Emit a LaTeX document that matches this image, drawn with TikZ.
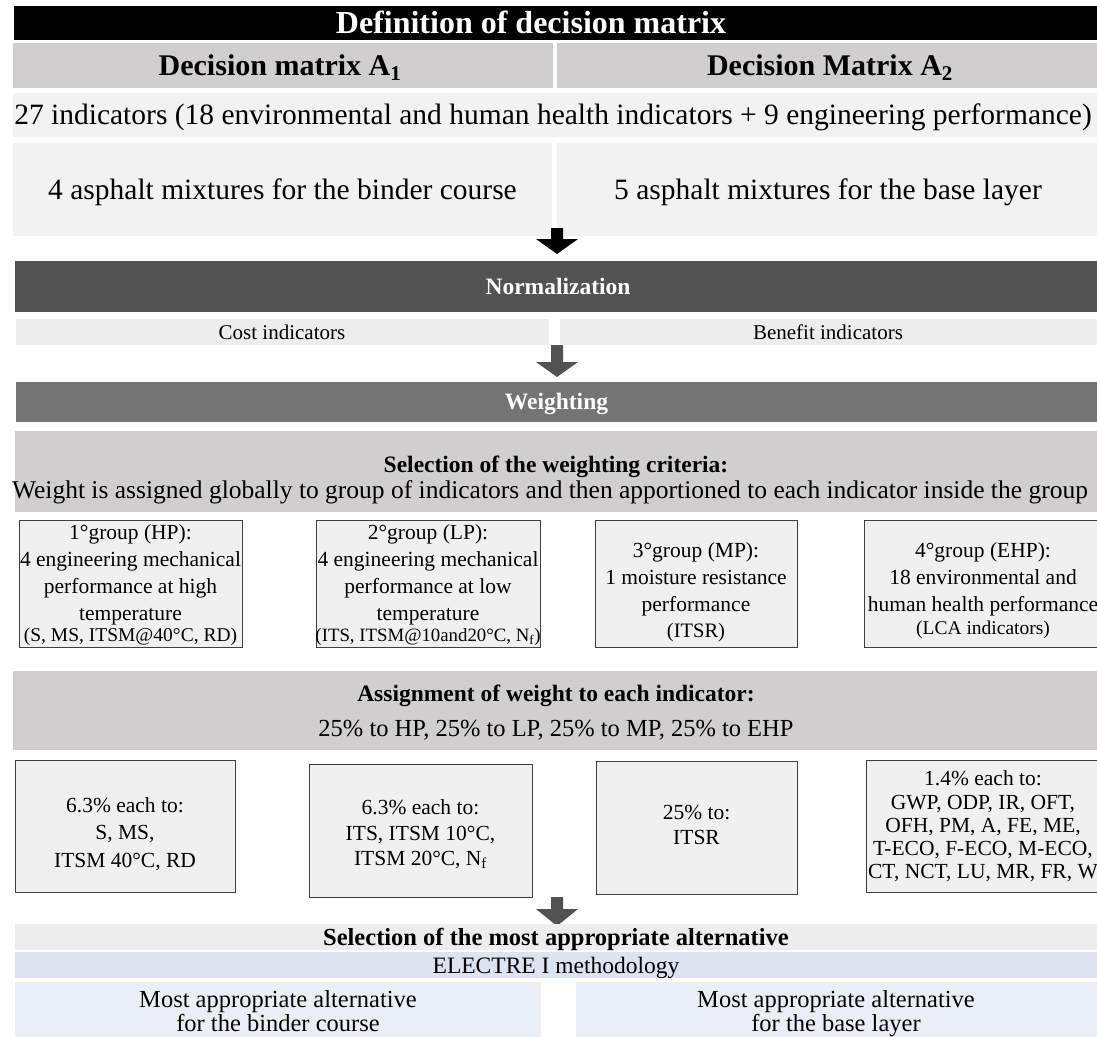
\documentclass[tikz,border=0pt]{standalone}
\usepackage{fontspec}
\setmainfont{Liberation Serif}

% palette
\definecolor{bandgray}{HTML}{D0CECE}
\definecolor{palegray}{HTML}{F2F2F2}
\definecolor{normgray}{HTML}{525252}
\definecolor{weightgray}{HTML}{747474}
\definecolor{rowgray}{HTML}{EDEDED}
\definecolor{boxfill}{HTML}{F0F0F0}
\definecolor{boxline}{HTML}{3F3F3F}
\definecolor{electreblue}{HTML}{DCE4F2}
\definecolor{resultblue}{HTML}{EAEFF7}

% filled panel: name, left, top, width, height, style
\newcommand\cell[6]{\node[cell,#6,minimum width=#4pt,minimum height=#5pt] (#1) at (#2,#3) {};}
% one line of text: name, x, baseline, size, style, text
\newcommand\tline[6]{\node[tl,#5] (#1) at (#2,#3) {\fontsize{#4}{#4}\selectfont #6};}
% block arrow: name, x, top, neck, tip, colour
\newcommand\blockarrow[6]{%
  \coordinate (#1-top) at (#2,#3);
  \coordinate (#1-tip) at (#2,#5);
  \fill[#6] (#2-6,#3) -- (#2+6,#3) -- (#2+6,#4) -- (#2+21,#4) -- (#1-tip)
            -- (#2-21,#4) -- (#2-6,#4) -- cycle;}

\begin{document}
\begin{tikzpicture}[x=1pt,y=-1pt,
  cell/.style={rectangle,inner sep=0pt,outer sep=0pt,anchor=north west},
  tl/.style={anchor=base,inner sep=0pt,outer sep=0pt},
  framed/.style={fill=boxfill,draw=boxline,line width=1pt}]
\useasboundingbox (0,0) rectangle (1097,1036);

% --- definition of the decision matrix
\cell{titlebar}{14}{6}{1083}{34}{fill=black}
\tline{title}{531}{33.6}{32}{text=white}{\bfseries Definition of decision matrix}

\cell{dmA}{13}{43}{540}{45}{fill=bandgray}
\cell{dmB}{557}{43}{545}{45}{fill=bandgray}
\tline{dmAt}{280}{75.5}{30}{}{\bfseries Decision matrix A\textsubscript{1}}
\tline{dmBt}{830}{75.5}{30}{}{\bfseries Decision Matrix A\textsubscript{2}}

\cell{ind}{13}{93}{1090}{44}{fill=palegray}
\tline{indt}{553}{124.7}{29.5}{}{27 indicators (18 environmental and human health indicators + 9 engineering performance)}

\cell{mixA}{13}{143}{539}{93}{fill=palegray}
\cell{mixB}{557}{143}{545}{93}{fill=palegray}
\tline{mixAt}{282.5}{199.7}{29.5}{}{4 asphalt mixtures for the binder course}
\tline{mixBt}{828}{199.7}{29.5}{}{5 asphalt mixtures for the base layer}

\blockarrow{arrA}{557}{228}{239}{254}{black}

% --- normalization
\cell{norm}{15}{261}{1087}{51}{fill=normgray}
\tline{normt}{558}{294.3}{23.5}{text=white}{\bfseries Normalization}

\cell{cost}{16}{319}{533}{26}{fill=rowgray}
\cell{benefit}{560}{319}{542}{26}{fill=rowgray}
\tline{costt}{282}{339}{21}{}{Cost indicators}
\tline{benefitt}{828}{339}{21}{}{Benefit indicators}

\blockarrow{arrB}{557}{345}{362}{377}{normgray}

% --- weighting
\cell{wgt}{16}{382}{1086}{40}{fill=weightgray}
\tline{wgtt}{556.5}{409.8}{23.5}{text=white}{\bfseries Weighting}

\cell{selcrit}{15}{431}{1087}{81}{fill=bandgray}
\tline{selcritA}{556}{472}{23.5}{}{\bfseries Selection of the weighting criteria:}
\tline{selcritB}{550}{498}{25.5}{}{Weight is assigned globally to group of indicators and then apportioned to each indicator inside the group}

% groups of indicators
\cell{g1}{19}{520}{223}{127}{framed}
\cell{g2}{316}{520}{224}{127}{framed}
\cell{g3}{595}{520}{202}{127}{framed}
\cell{g4}{864}{520}{240}{127}{framed}

\tline{g1a}{130.5}{539}{21.5}{}{1°group (HP):}
\tline{g1b}{130.5}{566}{21.5}{}{4 engineering mechanical}
\tline{g1c}{130.5}{593}{21.5}{}{performance at high}
\tline{g1d}{130.5}{620}{21.5}{}{temperature}
\tline{g1e}{130.5}{641}{19.5}{}{(S, MS, ITSM@40°C, RD)}

\tline{g2a}{428}{539}{21.5}{}{2°group (LP):}
\tline{g2b}{428}{566}{21.5}{}{4 engineering mechanical}
\tline{g2c}{428}{593}{21.5}{}{performance at low}
\tline{g2d}{428}{620}{21.5}{}{temperature}
\tline{g2e}{428}{641}{18.8}{}{(ITS, ITSM@10and20°C, N\textsubscript{f})}

\tline{g3a}{696}{557}{21.5}{}{3°group (MP):}
\tline{g3b}{696}{584}{21.5}{}{1 moisture resistance}
\tline{g3c}{696}{611}{21.5}{}{performance}
\tline{g3d}{696}{637}{20.5}{}{(ITSR)}

\tline{g4a}{983}{557}{21.5}{}{4°group (EHP):}
\tline{g4b}{983}{584}{21.5}{}{18 environmental and}
\tline{g4c}{983}{611}{21.5}{}{human health performance}
\tline{g4d}{983}{634}{19.5}{}{(LCA indicators)}

\cell{assign}{13}{671}{1090}{79}{fill=bandgray}
\tline{assignA}{556}{701}{23.5}{}{\bfseries Assignment of weight to each indicator:}
\tline{assignB}{556}{736}{24.5}{}{25\% to HP, 25\% to LP, 25\% to MP, 25\% to EHP}

% weights of the single indicators
\cell{w1}{15}{760}{220}{132}{framed}
\cell{w2}{309}{764}{223}{133}{framed}
\cell{w3}{596}{761}{201}{133}{framed}
\cell{w4}{866}{760}{240}{132}{framed}

\tline{w1a}{125}{812}{21.5}{}{6.3\% each to:}
\tline{w1b}{125}{839}{21.5}{}{S, MS,}
\tline{w1c}{125}{867}{21.5}{}{ITSM 40°C, RD}

\tline{w2a}{420.5}{814}{21.5}{}{6.3\% each to:}
\tline{w2b}{420.5}{840}{21.5}{}{ITS, ITSM 10°C,}
\tline{w2c}{420.5}{865}{21.5}{}{ITSM 20°C, N\textsubscript{f}}

\tline{w3a}{696.5}{819}{21.5}{}{25\% to:}
\tline{w3b}{696.5}{844}{21.5}{}{ITSR}

\tline{w4a}{983}{785}{21.5}{}{1.4\% each to:}
\tline{w4b}{983}{809}{21.5}{}{GWP, ODP, IR, OFT,}
\tline{w4c}{983}{832}{21.5}{}{OFH, PM, A, FE, ME,}
\tline{w4d}{983}{855}{21.5}{}{T-ECO, F-ECO, M-ECO,}
\tline{w4e}{983}{878}{21.5}{}{CT, NCT, LU, MR, FR, W}

\blockarrow{arrC}{557}{897}{909}{926}{normgray}

% --- selection of the alternative
\cell{selalt}{15}{924}{1087}{26}{fill=rowgray}
\tline{selaltt}{556}{945}{24.5}{}{\bfseries Selection of the most appropriate alternative}

\cell{electre}{15}{952}{1087}{26}{fill=electreblue}
\tline{electret}{556}{973}{23.5}{}{ELECTRE I methodology}

\cell{resA}{15}{982}{526}{60}{fill=resultblue}
\cell{resB}{576}{982}{526}{60}{fill=resultblue}
\tline{resAa}{278}{1007}{24.5}{}{Most appropriate alternative}
\tline{resAb}{278}{1031}{24.5}{}{for the binder course}
\tline{resBa}{836}{1007}{24.5}{}{Most appropriate alternative}
\tline{resBb}{836}{1031}{24.5}{}{for the base layer}
\end{tikzpicture}
\end{document}
